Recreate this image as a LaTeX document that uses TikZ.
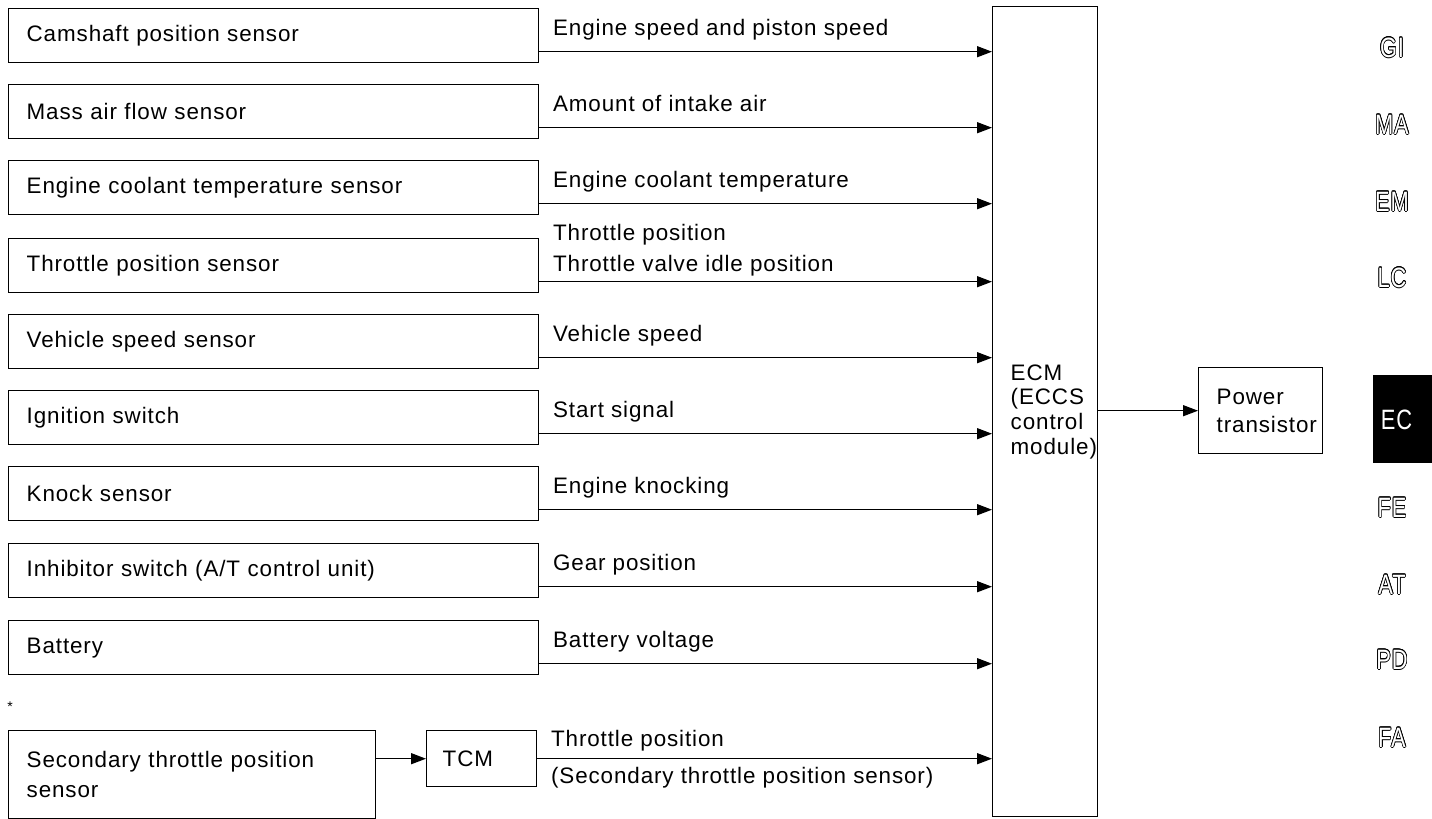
\documentclass[tikz,border=0pt]{standalone}
\usepackage{fontspec}
\setmainfont{Liberation Sans}[LetterSpace=4]
\usepackage{graphicx}
\usepackage{contour}
\contourlength{0.4pt}
\usetikzlibrary{arrows.meta,positioning}

\newcommand{\tabtext}[1]{\scalebox{0.78}[1]{\color{white}\contour{black}{#1}}}

\begin{document}
\begin{tikzpicture}[
  x=0.5pt, y=-0.5pt,
  font=\fontsize{11.2}{15}\selectfont,
  sens/.style={draw, line width=0.7pt, anchor=north west, align=left,
    text width=247pt, inner xsep=9pt, minimum height=27pt},
  blk/.style={draw, line width=0.7pt, anchor=north west, align=left},
  lbl/.style={at start, anchor=base west, inner sep=0pt, xshift=6.5pt},
  tab/.style={font=\fontsize{14}{16}\selectfont},
  ar/.style={-{Triangle[length=7.5pt, width=5.5pt]}, line width=0.7pt}
]
  \useasboundingbox (0,0) rectangle (1432,819);
  % sensors
  \node[sens] (cam) at (8, 8) {Camshaft position sensor};
  \node[sens] (maf) at (8, 84) {Mass air flow sensor};
  \node[sens] (ect) at (8, 160) {Engine coolant temperature sensor};
  \node[sens] (tps) at (8, 238) {Throttle position sensor};
  \node[sens] (vss) at (8, 314) {Vehicle speed sensor};
  \node[sens] (ign) at (8, 390) {Ignition switch};
  \node[sens] (knk) at (8, 466) {Knock sensor};
  \node[sens] (inh) at (8, 543) {Inhibitor switch (A/T control unit)};
  \node[sens] (bat) at (8, 620) {Battery};
  \node[font=\scriptsize] (ast) at (10, 707) {*};
  \node[blk, text width=165.5pt, inner xsep=9pt, minimum height=44pt] (stps) at (8, 730)
    {Secondary throttle position\\sensor};
  \node[blk, minimum width=55pt, minimum height=28pt, inner xsep=8pt, text width=39pt] (tcm) at (426, 730) {TCM};
  % control module and output
  \node[blk, minimum height=405pt, text width=34.5pt, inner xsep=9pt,
    font=\fontsize{11.2}{12.3}\selectfont] (ecm) at (992, 6)
    {ECM\\(ECCS\\control\\\mbox{module)}};
  \node[blk, minimum height=43pt, text width=44pt, inner xsep=9pt,
    font=\fontsize{11.2}{14}\selectfont] (pwr) at (1198, 367)
    {Power\\\mbox{transistor}};
  % signals
  \draw[ar] ([yshift=-8pt]cam.east) -- ([yshift=-8pt]cam.east -| ecm.west)
    node[lbl, yshift=8pt] {Engine speed and piston speed};
  \draw[ar] ([yshift=-8pt]maf.east) -- ([yshift=-8pt]maf.east -| ecm.west)
    node[lbl, yshift=8pt] {Amount of intake air};
  \draw[ar] ([yshift=-8pt]ect.east) -- ([yshift=-8pt]ect.east -| ecm.west)
    node[lbl, yshift=8pt] {Engine coolant temperature};
  \draw[ar] ([yshift=-8pt]tps.east) -- ([yshift=-8pt]tps.east -| ecm.west)
    node[lbl, yshift=20.5pt] {Throttle position}
    node[lbl, yshift=5pt] {Throttle valve idle position};
  \draw[ar] ([yshift=-8pt]vss.east) -- ([yshift=-8pt]vss.east -| ecm.west)
    node[lbl, yshift=8pt] {Vehicle speed};
  \draw[ar] ([yshift=-8pt]ign.east) -- ([yshift=-8pt]ign.east -| ecm.west)
    node[lbl, yshift=8pt] {Start signal};
  \draw[ar] ([yshift=-8pt]knk.east) -- ([yshift=-8pt]knk.east -| ecm.west)
    node[lbl, yshift=8pt] {Engine knocking};
  \draw[ar] ([yshift=-8pt]inh.east) -- ([yshift=-8pt]inh.east -| ecm.west)
    node[lbl, yshift=8pt] {Gear position};
  \draw[ar] ([yshift=-8pt]bat.east) -- ([yshift=-8pt]bat.east -| ecm.west)
    node[lbl, yshift=8pt] {Battery voltage};
  \draw[ar] (stps.east |- tcm.west) -- (tcm.west);
  \draw[ar] (tcm.east) -- (tcm.east -| ecm.west)
    node[lbl, yshift=6pt] {Throttle position}
    node[lbl, yshift=-12.5pt] {(Secondary throttle position sensor)};
  \draw[ar] (ecm.east |- pwr.west) -- (pwr.west);
  % section tabs
  \node[tab] (gi) at (1392, 48) {\tabtext{GI}};
  \node[tab] (ma) at (1392, 125) {\tabtext{MA}};
  \node[tab] (em) at (1392, 202) {\tabtext{EM}};
  \node[tab] (lc) at (1392, 278) {\tabtext{LC}};
  \node[fill=black, anchor=north west, minimum width=29.5pt, minimum height=44pt,
    align=left, text width=22pt, inner xsep=3.5pt, text=white,
    font=\fontsize{14}{16}\selectfont] (ec) at (1373, 375) {\scalebox{0.78}[1]{EC}};
  \node[tab] (fe) at (1392, 508) {\tabtext{FE}};
  \node[tab] (at) at (1392, 585) {\tabtext{AT}};
  \node[tab] (pd) at (1392, 660) {\tabtext{PD}};
  \node[tab] (fa) at (1392, 738) {\tabtext{FA}};
\end{tikzpicture}
\end{document}
